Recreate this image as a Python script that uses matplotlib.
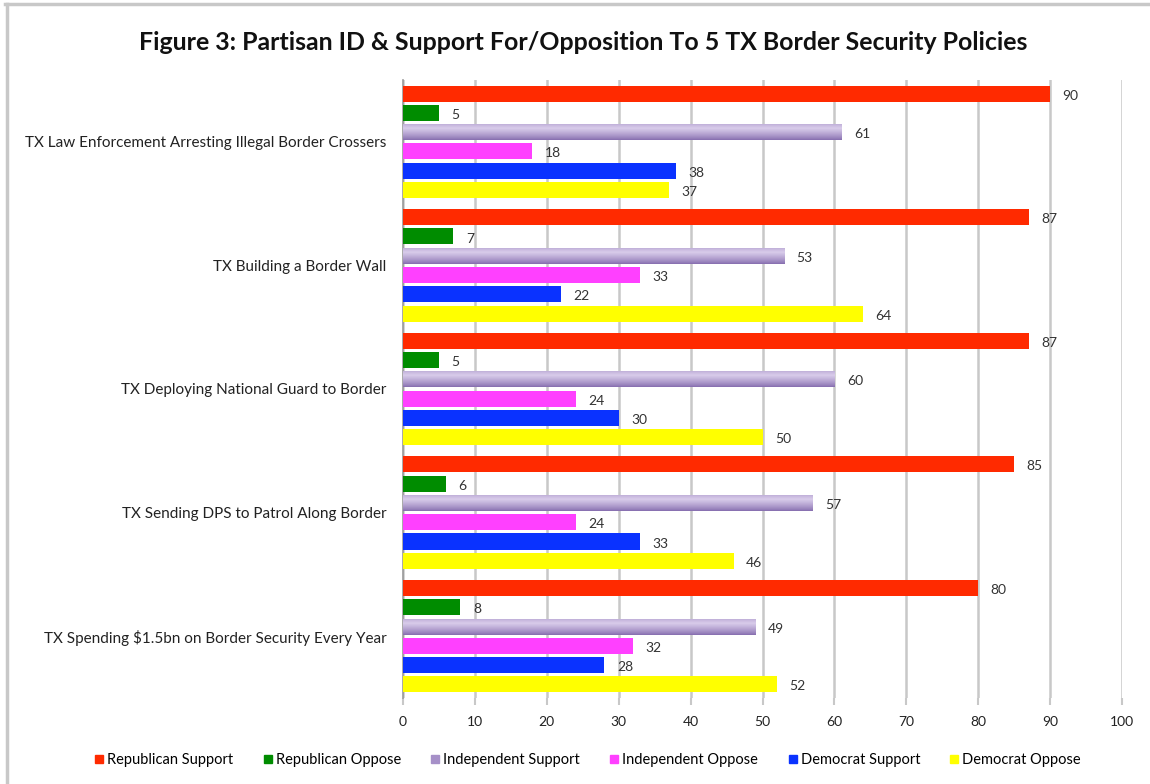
import numpy as np
import matplotlib
matplotlib.use("Agg")
import matplotlib.pyplot as plt
from matplotlib.lines import Line2D

plt.rcParams['font.family'] = ['Lato', 'DejaVu Sans']

policies = [
    "TX Law Enforcement Arresting Illegal Border Crossers",
    "TX Building a Border Wall",
    "TX Deploying National Guard to Border",
    "TX Sending DPS to Patrol Along Border",
    "TX Spending $1.5bn on Border Security Every Year",
]
series_names = [
    "Republican Support", "Republican Oppose",
    "Independent Support", "Independent Oppose",
    "Democrat Support", "Democrat Oppose",
]
republican_support = [90, 87, 87, 85, 80]
republican_oppose = [5, 7, 5, 6, 8]
independent_support = [61, 53, 60, 57, 49]
independent_oppose = [18, 33, 24, 24, 32]
democrat_support = [38, 22, 30, 33, 28]
democrat_oppose = [37, 64, 50, 46, 52]
x_ticks = [0, 10, 20, 30, 40, 50, 60, 70, 80, 90, 100]

series_values = [republican_support, republican_oppose, independent_support,
                 independent_oppose, democrat_support, democrat_oppose]
colors = ["#ff2a00", "#008c00", "#a690c8", "#ff40ff", "#0a32ff", "#ffff00"]

fig = plt.figure(figsize=(11.5, 7.84), dpi=100)
ax = fig.add_axes([0.3504, 0.1097, 0.6253, 0.7883])

n_groups = len(policies)
step = 0.156
height = 0.13
centers = np.arange(n_groups)

for i, (name, vals, col) in enumerate(zip(series_names, series_values, colors)):
    y = centers + (i - 2.5) * step
    bars = ax.barh(y, vals, height=height, color=col, zorder=3, label=name)
    if name == "Independent Support":
        # shaded tube look for the lavender bars: light near the top, darker at the bottom edge
        t = np.linspace(0, 1, 64)
        dark = np.array([0.52, 0.42, 0.68])
        light = np.array([0.85, 0.80, 0.92])
        mix = np.clip(1 - np.abs(t - 0.3) / 0.7, 0, 1) ** 0.8
        img = (dark[None, :] * (1 - mix[:, None]) + light[None, :] * mix[:, None])[:, None, :]
        for b in bars:
            x0, y0 = b.get_x(), b.get_y()
            w, h = b.get_width(), b.get_height()
            im = ax.imshow(img, extent=(x0, x0 + w, y0 + h, y0), aspect='auto',
                           zorder=3.5, interpolation='bilinear')
            im.set_clip_path(b)
    for yy, v in zip(y, vals):
        ax.annotate(f"{v}", xy=(v, yy), xytext=(9, -1.5), textcoords='offset points',
                    va='center', ha='left', fontsize=10, color='#333333', zorder=5)

ax.set_xlim(0, 100)
ax.set_ylim(n_groups - 0.5, -0.5)
ax.set_xticks(x_ticks)
ax.set_xticklabels([str(t) for t in x_ticks], fontsize=10, color='#222222')
ax.set_yticks(centers)
ax.set_yticklabels(policies, fontsize=11, color='#222222')
ax.tick_params(axis='y', length=0, pad=12)
ax.tick_params(axis='x', length=5, width=1.5, color='#c8c8c8', pad=8)
ax.grid(axis='x', color='#c8c8c8', linewidth=1.8, zorder=0)
ax.set_axisbelow(True)
for side in ['top', 'right', 'bottom']:
    ax.spines[side].set_visible(False)
ax.spines['left'].set_color('#999999')
ax.spines['left'].set_linewidth(1.2)

fig.text(0.507, 0.946, "Figure 3: Partisan ID & Support For/Opposition To 5 TX Border Security Policies",
         ha='center', va='center', fontsize=17.9, fontweight='bold', color='#111111')

handles = [Line2D([0], [0], marker='s', linestyle='none', markersize=6,
                  markerfacecolor=c, markeredgecolor=c) for c in colors]
fig.legend(handles, series_names, loc='center', bbox_to_anchor=(0.51, 0.031),
           ncol=6, frameon=False, fontsize=10.5, handletextpad=0.05,
           columnspacing=1.85, handlelength=1.0)

# outer frame lines along the top and left edges
fig.add_artist(Line2D([0.004, 1.0], [0.995, 0.995], transform=fig.transFigure,
                      color='#c8c8c8', linewidth=2.5))
fig.add_artist(Line2D([0.006, 0.006], [0.0, 0.995], transform=fig.transFigure,
                      color='#c8c8c8', linewidth=2.5))

fig.savefig("out.png", dpi=100)
